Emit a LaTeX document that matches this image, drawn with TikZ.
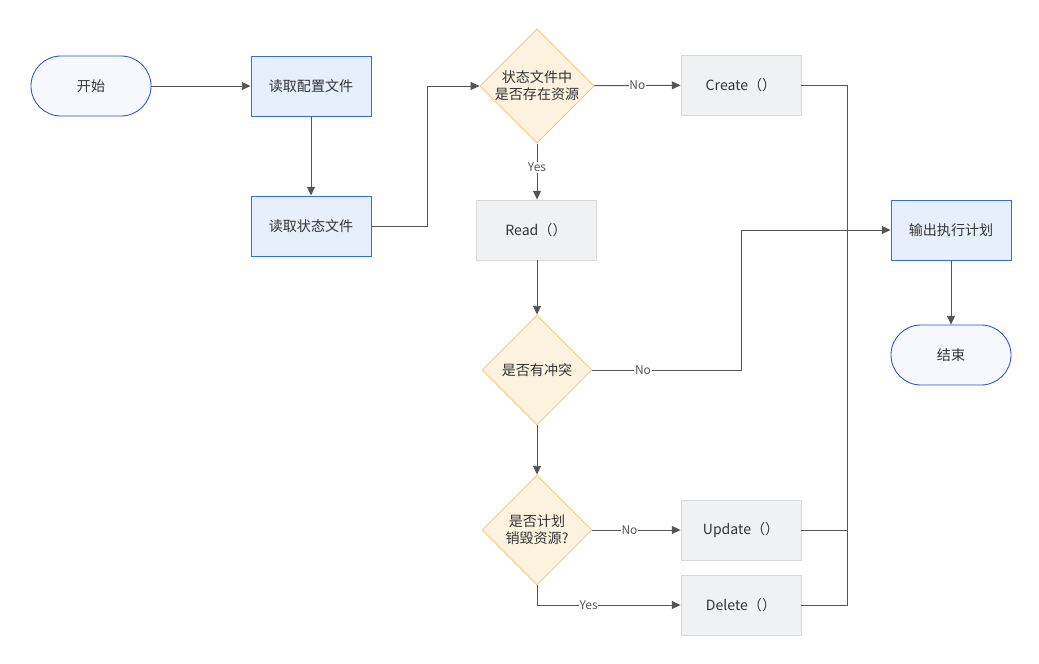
\documentclass[tikz,border=0pt]{standalone}
\usepackage{fontspec}
\setmainfont{Noto Sans CJK SC}
\usepackage{tikz}
\usetikzlibrary{shapes.geometric,arrows.meta}
\definecolor{edgegray}{RGB}{85, 85, 85}
\definecolor{txtgray}{RGB}{51, 51, 51}
\definecolor{termfill}{RGB}{247, 248, 254}
\definecolor{termline}{RGB}{43, 75, 216}
\definecolor{stepfill}{RGB}{232, 239, 252}
\definecolor{stepline}{RGB}{47, 111, 224}
\definecolor{askfill}{RGB}{253, 242, 224}
\definecolor{askline}{RGB}{248, 200, 128}
\definecolor{opfill}{RGB}{240, 241, 243}
\definecolor{opline}{RGB}{217, 217, 217}
\tikzset{
    terminal/.style={rectangle, rounded corners=0.75cm, draw=termline, fill=termfill,
        minimum width=3cm, minimum height=1.5cm, text=txtgray, line width=0.6pt},
    stepbox/.style={rectangle, draw=stepline, fill=stepfill,
        minimum width=3cm, minimum height=1.5cm, text=txtgray, line width=0.6pt},
    askbox/.style={diamond, draw=askline, fill=askfill, inner sep=0pt, align=center,
        minimum width=2.75cm, minimum height=2.75cm, text=txtgray, line width=0.6pt},
    opbox/.style={rectangle, draw=opline, fill=opfill,
        minimum width=3cm, minimum height=1.5cm, text=txtgray, line width=0.6pt},
    link/.style={draw=edgegray, line width=0.7pt},
    arr/.style={link, -{Triangle[length=2.2mm, width=2mm]}},
    lbl/.style={fill=white, inner sep=0.5pt, font=\fontsize{8.5}{10}\selectfont, text=edgegray}
}

\begin{document}
\begin{tikzpicture}[x=0.025cm, y=-0.025cm]
            \useasboundingbox (0,0) rectangle (1039,664);
            % Start & read inputs
            \node[terminal] (start)  at ( 91, 86) {开始};
            \node[stepbox]  (config) at (311, 86) {读取配置文件};
            \node[stepbox]  (state)  at (311,226) {读取状态文件};
            % Decisions
            \node[askbox] (exists)   at (537, 86) {状态文件中\\是否存在资源};
            \node[askbox] (conflict) at (537,370) {是否有冲突};
            \node[askbox] (destroy)  at (537,530) {是否计划\\销毁资源?};
            % Operations
            \node[opbox] (create) at (741, 85) {Create（）};
            \node[opbox] (read)   at (536,230) {Read（）};
            \node[opbox] (update) at (741,530) {Update（）};
            \node[opbox] (delete) at (741,605) {Delete（）};
            % Output & end
            \node[stepbox]  (plan) at (951,230) {输出执行计划};
            \node[terminal] (stop) at (951,355) {结束};
            \coordinate (merge) at (847,0);
            % Connectors
            \draw[arr] (start) -- (config);
            \draw[arr] (config) -- (state);
            \draw[arr] (state.east) -- ++(56,0) |- (exists.west);
            \draw[arr] (exists) -- node[lbl]{No} (create);
            \draw[arr] (exists) -- node[lbl, pos=0.43]{Yes} (read.north -| exists);
            \draw[arr] (read.south -| conflict) -- (conflict);
            \draw[arr] (conflict.east) -- node[lbl, pos=0.34]{No} (741,370) |- (plan.west);
            \draw[arr] (conflict) -- (destroy);
            \draw[arr] (destroy) -- node[lbl, pos=0.42]{No} (update);
            \draw[arr] (destroy.south) |- node[lbl, pos=0.68]{Yes} (delete.west);
            \draw[link] (create.east) -| (merge |- delete.east) -- (delete.east);
            \draw[link] (update.east) -- (merge |- update.east);
            \draw[arr] (plan) -- (stop);
        \end{tikzpicture}
\end{document}
